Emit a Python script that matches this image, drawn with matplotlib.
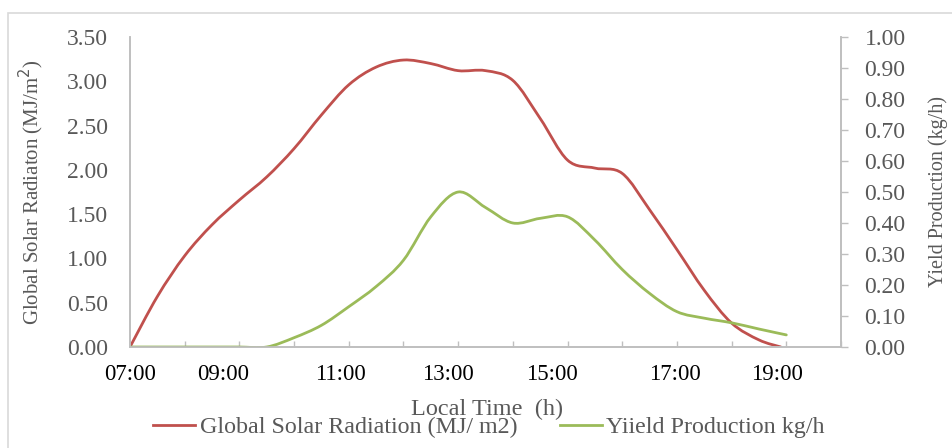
import numpy as np
import matplotlib.pyplot as plt
from matplotlib.patches import Rectangle, PathPatch
from matplotlib.path import Path
from matplotlib.lines import Line2D

# 時刻 (h) と各系列の値
hours = [7.0, 7.5, 8.0, 8.5, 9.0, 9.5, 10.0, 10.5, 11.0, 11.5, 12.0, 12.5,
         13.0, 13.5, 14.0, 14.5, 15.0, 15.5, 16.0, 16.5, 17.0, 17.5, 18.0,
         18.5, 18.9]
radiation = [0.00, 0.57, 1.03, 1.38, 1.66, 1.92, 2.24, 2.62, 2.96, 3.16,
             3.24, 3.20, 3.12, 3.12, 3.01, 2.58, 2.11, 2.02, 1.96, 1.55,
             1.10, 0.64, 0.27, 0.08, 0.00]

yield_hours = [7.0, 7.5, 8.0, 8.5, 9.0, 9.5, 10.0, 10.5, 11.0, 11.5, 12.0,
               12.5, 13.0, 13.5, 14.0, 14.5, 15.0, 15.5, 16.0, 16.5, 17.0,
               17.5, 18.0, 18.5, 19.0]
yield_prod = [0.0, 0.0, 0.0, 0.0, 0.0, 0.0, 0.03, 0.07, 0.13, 0.195, 0.28,
              0.42, 0.50, 0.45, 0.40, 0.415, 0.42, 0.345, 0.25, 0.173,
              0.114, 0.093, 0.078, 0.058, 0.039]

# 目盛ラベル (元図の表示位置)
tick_labels = ['07:00', '09:00', '11:00', '13:00', '15:00', '17:00', '19:00']
tick_pos = [7.0, 8.70, 10.84, 12.81, 14.71, 16.96, 18.83]

RED = '#C0504D'
GREEN = '#9BBB59'
GRAY = '#595959'
AXC = '#BFBFBF'


#Excel風の平滑線 (データ点を通るベジェ曲線)
def smooth_path(x, y):
    p = np.column_stack([x, y])
    verts = [p[0]]
    codes = [Path.MOVETO]
    for i in range(len(p) - 1):
        p0 = p[i - 1] if i > 0 else p[i]
        p3 = p[i + 2] if i + 2 < len(p) else p[i + 1]
        c1 = p[i] + (p[i + 1] - p0) / 6
        c2 = p[i + 1] - (p3 - p[i]) / 6
        verts += [c1, c2, p[i + 1]]
        codes += [Path.CURVE4] * 3
    return Path(verts, codes)


plt.rcParams['font.family'] = ['Liberation Serif', 'DejaVu Serif']

fig = plt.figure(figsize=(9.52, 4.48), dpi=100)
# グラフ枠
fig.patches.append(Rectangle((8 / 952, -0.1), 1.0, 1 - 13 / 448 + 0.1,
                             transform=fig.transFigure, fill=False,
                             edgecolor='#D9D9D9', linewidth=1.2))

ax = fig.add_axes([130 / 952, 1 - 347 / 448, 711 / 952, 310 / 448])
ax2 = ax.twinx()

ax.add_patch(PathPatch(smooth_path(hours, radiation), fill=False,
                       edgecolor=RED, lw=2.0, capstyle='round',
                       joinstyle='round'))
ax2.add_patch(PathPatch(smooth_path(yield_hours, yield_prod), fill=False,
                        edgecolor=GREEN, lw=2.0, capstyle='round',
                        joinstyle='round'))

ax.set_xlim(7, 20)
ax.set_ylim(0, 3.5)
ax2.set_ylim(0, 1.0)

ax.set_yticks(np.arange(0, 3.51, 0.5))
ax.set_yticklabels([f'{v:.2f}' for v in np.arange(0, 3.51, 0.5)])
ax2.set_yticks(np.arange(0, 1.01, 0.1))
ax2.set_yticklabels([f'{v:.2f}' for v in np.arange(0, 1.01, 0.1)])

ax.set_xticks(tick_pos)
ax.set_xticklabels(tick_labels)
ax.set_xticks(np.arange(7, 20.1, 1), minor=True)

for a in (ax, ax2):
    a.spines['top'].set_visible(False)
    for s in a.spines.values():
        s.set_color(AXC)
        s.set_linewidth(1.2)

ax.tick_params(axis='x', which='major', length=0, pad=12, labelsize=16.5,
               labelcolor='black')
ax.tick_params(axis='x', which='minor', direction='in', length=4,
               color=AXC, width=1)
ax.tick_params(axis='y', length=0, pad=16, labelsize=17, labelcolor=GRAY)
ax2.tick_params(axis='y', direction='out', length=5, color=AXC, width=1,
                pad=12, labelsize=17, labelcolor=GRAY)

ax.set_ylabel('Global Solar Radiaton (MJ/m$^2$)', fontsize=15, color=GRAY)
ax2.set_ylabel('Yield Production (kg/h)', fontsize=14.5, color=GRAY)
ax.yaxis.set_label_coords(-84 / 711, 0.5)
ax2.yaxis.set_label_coords(1 + 87 / 711, 0.5)

fig.text(487 / 952, 1 - 409 / 448, 'Local Time  (h)', ha='center',
         va='center', fontsize=17.5, color=GRAY)

handles = [Line2D([], [], color=RED, lw=2.0),
           Line2D([], [], color=GREEN, lw=2.0)]
names = ['Global Solar Radiation (MJ/ m2)', 'Yiield Production kg/h']
leg = fig.legend(handles, names,
                 loc='center', bbox_to_anchor=(489 / 952, 1 - 427 / 448),
                 ncol=2, frameon=False, fontsize=17.3, handlelength=1.75,
                 handletextpad=0.2, columnspacing=1.75, borderpad=0)
for t in leg.get_texts():
    t.set_color(GRAY)

fig.savefig('out.png', dpi=100)
